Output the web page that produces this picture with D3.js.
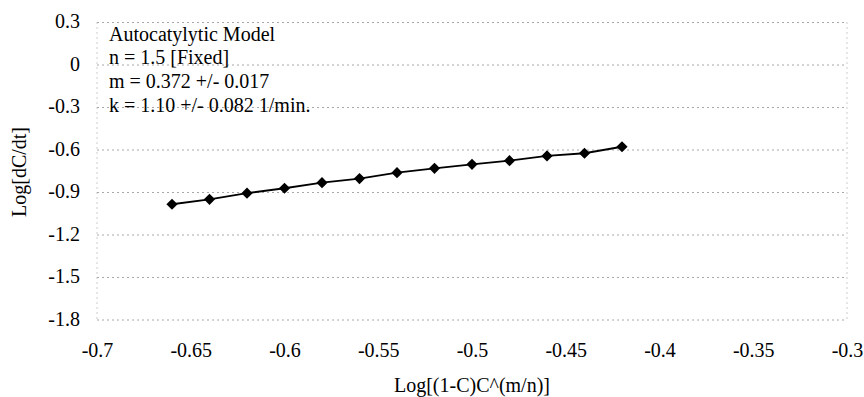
<!DOCTYPE html>
<html>
<head>
<meta charset="utf-8">
<script src="https://d3js.org/d3.v7.min.js"></script>
<style>
  body { margin: 0; background: #fff; }
  text { font-family: "Liberation Serif", "Times New Roman", serif; fill: #000; }
</style>
</head>
<body>
<div id="chart"></div>
<script>
// data
var xVals = [-0.66, -0.64, -0.62, -0.60, -0.58, -0.56, -0.54, -0.52, -0.50, -0.48, -0.46, -0.44, -0.42];
var yVals = [-0.983, -0.948, -0.905, -0.870, -0.831, -0.802, -0.760, -0.729, -0.701, -0.675, -0.642, -0.623, -0.577];
var xTicks = [-0.7, -0.65, -0.6, -0.55, -0.5, -0.45, -0.4, -0.35, -0.3];
var yTicks = [0.3, 0, -0.3, -0.6, -0.9, -1.2, -1.5, -1.8];
var notes = ["Autocatylytic Model", "n = 1.5 [Fixed]", "m = 0.372 +/- 0.017", "k = 1.10 +/- 0.082 1/min."];

var W = 864, H = 397;
var margin = {top: 22.5, right: 17, bottom: 77, left: 97};
var width = W - margin.left - margin.right,
    height = H - margin.top - margin.bottom;

var svg = d3.select("#chart")
    .append("svg")
    .attr("width", W)
    .attr("height", H)
    .append("g")
    .attr("transform", "translate(" + margin.left + "," + margin.top + ")");

var x = d3.scaleLinear().domain([-0.7, -0.3]).range([0, width]);
var y = d3.scaleLinear().domain([-1.8, 0.3]).range([height, 0]);

// faint dotted gridlines
svg.append("g")
    .selectAll("line")
    .data(yTicks)
    .enter()
    .append("line")
    .attr("x1", 0)
    .attr("x2", width)
    .attr("y1", function(d) { return y(d); })
    .attr("y2", function(d) { return y(d); })
    .style("stroke", "#a8a8a8")
    .style("stroke-width", 1)
    .style("stroke-dasharray", "2,3");

// left and right frame, dotted
svg.append("g")
    .selectAll("line")
    .data([-0.7, -0.3])
    .enter()
    .append("line")
    .attr("x1", function(d) { return x(d); })
    .attr("x2", function(d) { return x(d); })
    .attr("y1", 0)
    .attr("y2", height)
    .style("stroke", "#999")
    .style("stroke-width", 1)
    .style("stroke-dasharray", "1,4");

// axes (labels only), plain hyphen minus like the original
var yAxis = svg.append("g")
    .attr("transform", "translate(-17,0)")
    .call(d3.axisLeft(y).tickValues(yTicks).tickSize(0).tickFormat(String));
yAxis.select(".domain").remove();
yAxis.selectAll("text")
    .style("font-size", "20px")
    .style("font-family", "'Liberation Serif', serif")
    .attr("x", 0)
    .attr("dy", "0.25em");

var xAxis = svg.append("g")
    .attr("transform", "translate(0," + height + ")")
    .call(d3.axisBottom(x).tickValues(xTicks).tickSize(0).tickFormat(String));
xAxis.select(".domain").remove();
xAxis.selectAll("text")
    .style("font-size", "20px")
    .style("font-family", "'Liberation Serif', serif")
    .attr("y", 37)
    .attr("dy", 0);

// series
var pts = xVals.map(function(d, i) { return [d, yVals[i]]; });

svg.append("path")
    .datum(pts)
    .attr("d", d3.line()
        .x(function(d) { return x(d[0]); })
        .y(function(d) { return y(d[1]); }))
    .style("fill", "none")
    .style("stroke", "#000")
    .style("stroke-width", 1.8);

svg.selectAll(".pt")
    .data(pts)
    .enter()
    .append("path")
    .attr("class", "pt")
    .attr("transform", function(d) { return "translate(" + x(d[0]) + "," + y(d[1]) + ")"; })
    .attr("d", d3.symbol().type(d3.symbolDiamond2).size(80))
    .style("fill", "#000");

// annotation
svg.append("g")
    .selectAll("text")
    .data(notes)
    .enter()
    .append("text")
    .attr("x", 12)
    .attr("y", function(d, i) { return 18 + i * 23.8; })
    .style("font-size", "20px")
    .text(function(d) { return d; });

// axis titles
svg.append("text")
    .attr("text-anchor", "middle")
    .attr("x", width / 2)
    .attr("y", height + 72)
    .style("font-size", "20px")
    .text("Log[(1-C)C^(m/n)]");

svg.append("text")
    .attr("text-anchor", "middle")
    .attr("transform", "translate(" + (26 - margin.left) + "," + (172 - margin.top) + ") rotate(-90)")
    .style("font-size", "20px")
    .text("Log[dC/dt]");
</script>
</body>
</html>
